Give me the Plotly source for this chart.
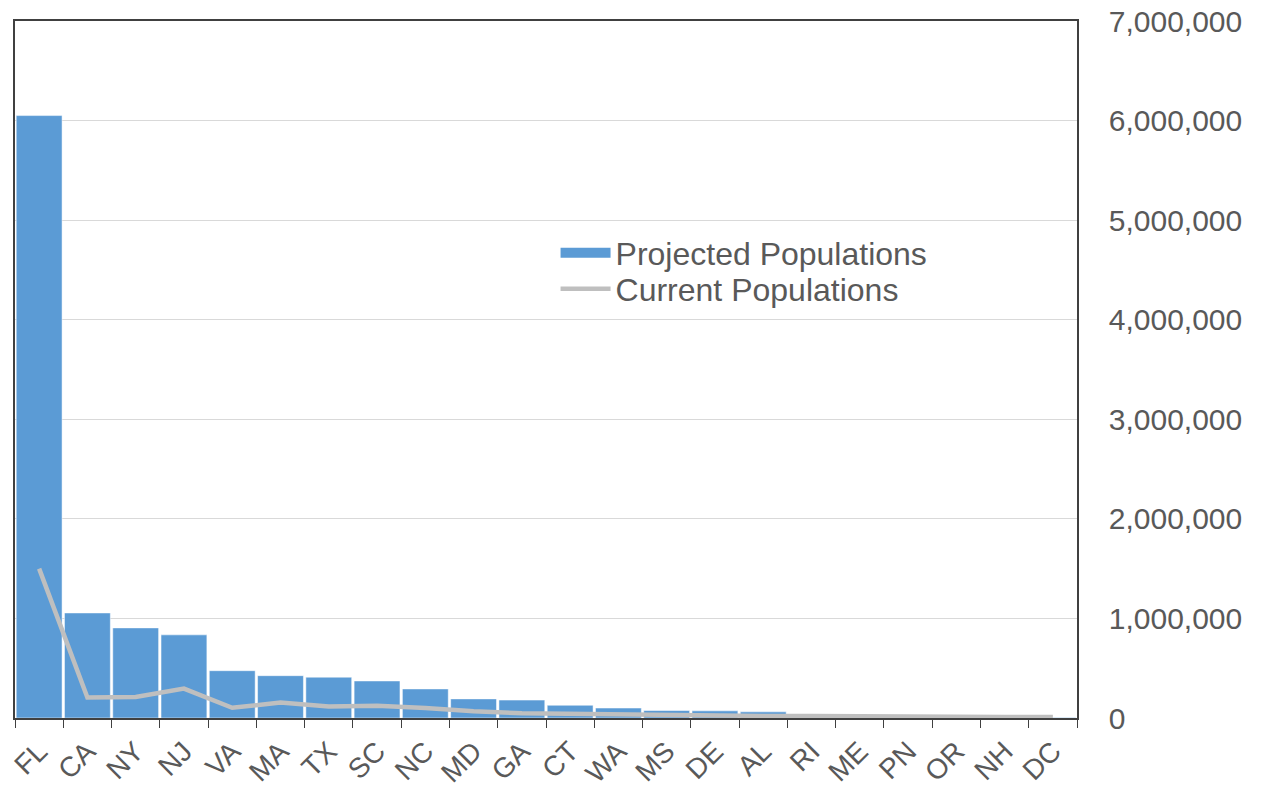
import plotly.graph_objects as go

states = ["FL", "CA", "NY", "NJ", "VA", "MA", "TX", "SC", "NC", "MD", "GA",
          "CT", "WA", "MS", "DE", "AL", "RI", "ME", "PN", "OR", "NH", "DC"]
projected = [6050000, 1055000, 905000, 835000, 475000, 425000, 410000, 372000,
             292000, 192000, 180000, 128000, 100000, 75000, 72000, 62000,
             22000, 15000, 12000, 10000, 9000, 6000]
current = [1500000, 205000, 212000, 295000, 103000, 155000, 115000, 122000,
           100000, 68000, 48000, 42000, 32000, 26000, 25000, 21000,
           20000, 15000, 11000, 10000, 10000, 9000]
y_ticks = [0, 1000000, 2000000, 3000000, 4000000, 5000000, 6000000, 7000000]

font_family = "Liberation Sans, Arial, sans-serif"
text_color = "#595959"
bar_color = "#5b9bd5"
line_color = "#bfbfbf"

fig = go.Figure()
fig.add_trace(go.Bar(
    x=states, y=projected, name="Projected Populations",
    marker=dict(color=bar_color, line=dict(color="white", width=0.5)),
    showlegend=False,
))
# legend entry drawn as a wide rectangle, like the original
fig.add_trace(go.Scatter(
    x=[None], y=[None], name="Projected Populations", mode="lines",
    line=dict(color=bar_color, width=17), legend="legend",
))
fig.add_trace(go.Scatter(
    x=states, y=current, name="Current Populations", mode="lines",
    line=dict(color=line_color, width=4.5), legend="legend2",
))

legend_common = dict(
    xanchor="left", yanchor="middle",
    bgcolor="rgba(0,0,0,0)",
    font=dict(size=32, color=text_color),
    itemwidth=50,
)

fig.update_layout(
    width=1262, height=789,
    margin=dict(l=15, r=185, t=21, b=71),
    paper_bgcolor="white", plot_bgcolor="white",
    bargap=0.05,
    font=dict(family=font_family, color=text_color, size=24),
    showlegend=True,
    legend=dict(x=0.509, y=(718 - 253) / 697, **legend_common),
    legend2=dict(x=0.509, y=(718 - 289) / 697, **legend_common),
    xaxis=dict(
        type="category",
        tickangle=-45,
        tickfont=dict(size=28, color=text_color),
        ticks="outside", tickson="boundaries", ticklen=8, tickcolor="#404040",
        ticklabelstandoff=4,
        showline=True, linecolor="#404040", linewidth=1.5, mirror=True,
        showgrid=False, automargin=False,
    ),
    yaxis=dict(
        side="right",
        range=[0, 7000000],
        tickvals=y_ticks,
        tickformat=",",
        tickfont=dict(size=30, color=text_color),
        ticklabelstandoff=24,
        showgrid=True, gridcolor="#d9d9d9", gridwidth=1,
        showline=True, linecolor="#404040", linewidth=1.5, mirror=True,
        zeroline=False, automargin=False,
        ticks="",
    ),
)

fig.write_html("out.html")
